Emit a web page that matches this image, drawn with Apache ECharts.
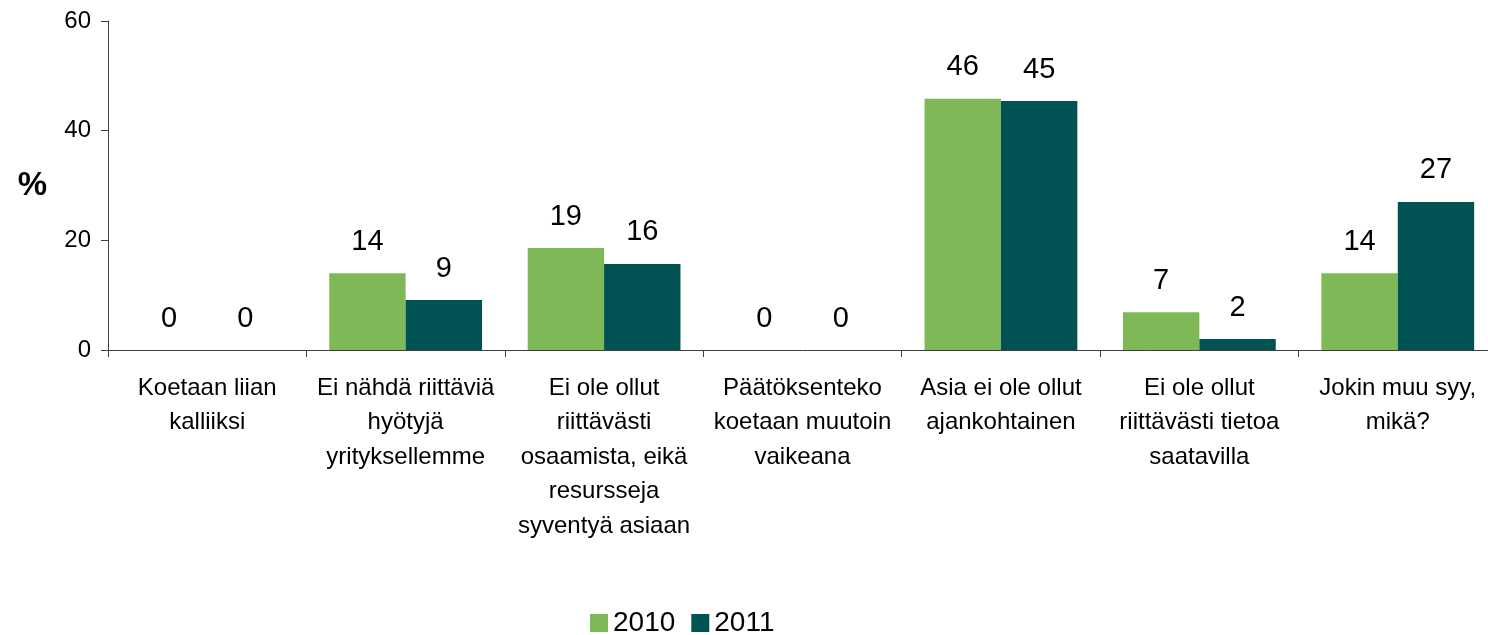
<!DOCTYPE html>
<html>
<head>
<meta charset="utf-8">
<script src="https://cdn.jsdelivr.net/npm/echarts@6/dist/echarts.min.js"></script>
<style>
  html, body { margin: 0; padding: 0; background: #fff; overflow: hidden; }
  /* plot area runs a few pixels past the right edge, as in the original */
  #chart { width: 1497px; height: 635px; }
</style>
</head>
<body>
<div id="chart"></div>
<script>
// syyt (categories), wrapped as in the original
const categories = [
  'Koetaan liian\nkalliiksi',
  'Ei nähdä riittäviä\nhyötyjä\nyrityksellemme',
  'Ei ole ollut\nriittävästi\nosaamista, eikä\nresursseja\nsyventyä asiaan',
  'Päätöksenteko\nkoetaan muutoin\nvaikeana',
  'Asia ei ole ollut\najankohtainen',
  'Ei ole ollut\nriittävästi tietoa\nsaatavilla',
  'Jokin muu syy,\nmikä?'
];
const values2010 = [0, 14, 18.6, 0, 45.8, 6.9, 14];
const values2011 = [0, 9.1, 15.7, 0, 45.4, 2, 27];
const yTicks = [0, 20, 40, 60];

const font = 'Liberation Sans, Arial, sans-serif';

let myChart = echarts.init(document.getElementById('chart'));

function barSeries(name, data, color) {
  return {
    name: name,
    type: 'bar',
    data: data,
    barGap: '0%',
    barCategoryGap: '23%',
    itemStyle: { color: color },
    label: {
      show: true,
      position: 'top',
      distance: 17,
      fontFamily: font,
      fontSize: 29,
      color: '#000',
      formatter: p => Math.round(p.value)
    }
  };
}

let option = {
  animation: false,
  textStyle: { fontFamily: font },
  grid: { left: 108, top: 21, bottom: 285, right: 0 },
  legend: {
    left: 585,
    top: 604,
    icon: 'rect',
    itemWidth: 18,
    itemHeight: 18,
    itemGap: 16,
    textStyle: { fontFamily: font, fontSize: 28, color: '#000' },
    data: ['2010', '2011']
  },
  xAxis: {
    type: 'category',
    data: categories,
    axisLine: { lineStyle: { color: '#404040', width: 1 } },
    axisTick: { show: true, length: 7, lineStyle: { color: '#404040' } },
    axisLabel: {
      interval: 0,
      margin: 21,
      fontFamily: font,
      fontSize: 24,
      lineHeight: 34.5,
      color: '#000',
      align: 'center'
    }
  },
  yAxis: {
    type: 'value',
    min: yTicks[0],
    max: yTicks[yTicks.length - 1],
    interval: 20,
    name: '%',
    nameLocation: 'middle',
    nameRotate: 0,
    nameGap: 61,
    nameTextStyle: { fontFamily: font, fontSize: 33, fontWeight: 'bold', color: '#000' },
    splitLine: { show: false },
    axisLine: { show: true, lineStyle: { color: '#404040', width: 1 } },
    axisTick: { show: true, length: 7, lineStyle: { color: '#404040' } },
    axisLabel: { margin: 17, fontFamily: font, fontSize: 24, color: '#000' }
  },
  series: [
    barSeries('2010', values2010, '#7FB957'),
    barSeries('2011', values2011, '#005352')
  ]
};

myChart.setOption(option);
</script>
</body>
</html>
